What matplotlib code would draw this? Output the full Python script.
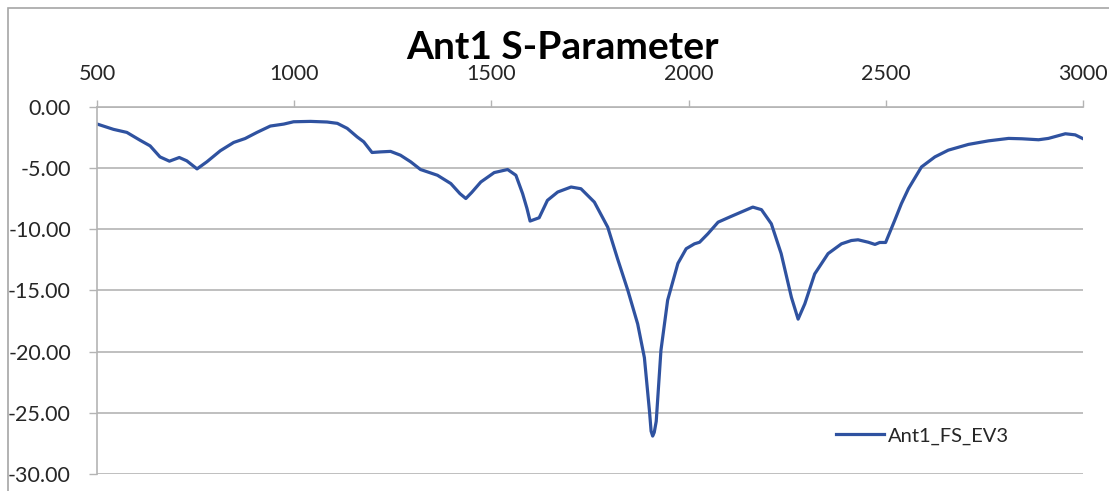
import matplotlib
matplotlib.use('Agg')
import matplotlib.pyplot as plt
from matplotlib.ticker import FuncFormatter, MultipleLocator
from matplotlib.patches import Rectangle

# S11 sweep of Ant1 (frequency in MHz, return loss in dB)
freq = [500, 541, 575, 608, 634, 659, 683, 708, 727, 753, 778, 812, 846, 875,
        905, 939, 973, 998, 1041, 1083, 1109, 1134, 1159, 1176, 1197, 1219,
        1244, 1269, 1295, 1320, 1363, 1397, 1420, 1435, 1450, 1473, 1507,
        1541, 1562, 1579, 1590, 1598, 1621, 1642, 1668, 1702, 1727, 1761,
        1795, 1820, 1846, 1871, 1888, 1901, 1905, 1909, 1913, 1918, 1930,
        1947, 1973, 1994, 2015, 2028, 2049, 2075, 2108, 2134, 2163, 2185,
        2210, 2235, 2261, 2278, 2295, 2320, 2354, 2388, 2413, 2430, 2456,
        2473, 2485, 2500, 2523, 2540, 2558, 2591, 2625, 2659, 2710, 2761,
        2812, 2846, 2888, 2913, 2956, 2981, 3000]
s11 = [-1.42, -1.85, -2.10, -2.73, -3.20, -4.10, -4.45, -4.15, -4.42, -5.08,
       -4.50, -3.60, -2.92, -2.60, -2.10, -1.58, -1.42, -1.23, -1.20, -1.25,
       -1.36, -1.77, -2.46, -2.87, -3.74, -3.69, -3.65, -3.96, -4.50, -5.13,
       -5.60, -6.28, -7.10, -7.50, -7.00, -6.15, -5.38, -5.13, -5.60, -7.10,
       -8.30, -9.34, -9.07, -7.65, -6.97, -6.56, -6.70, -7.79, -9.84, -12.43,
       -15.00, -17.75, -20.50, -24.90, -26.50, -26.90, -26.60, -25.70, -19.90,
       -15.80, -12.80, -11.60, -11.20, -11.07, -10.38, -9.43, -8.96, -8.60,
       -8.20, -8.41, -9.56, -12.00, -15.57, -17.35, -16.10, -13.66, -12.00,
       -11.20, -10.93, -10.87, -11.07, -11.25, -11.09, -11.09, -9.29, -7.92,
       -6.69, -4.92, -4.10, -3.55, -3.08, -2.79, -2.59, -2.62, -2.70, -2.59,
       -2.21, -2.30, -2.60]

series_name = 'Ant1_FS_EV3'
title = 'Ant1 S-Parameter'

plt.rcParams['font.family'] = ['Lato', 'DejaVu Sans']

W, H = 1109, 491
fig = plt.figure(figsize=(W / 100, H / 100), dpi=100)
ax = fig.add_axes([97.3 / W, 1 - 474 / H, (1082.7 - 97.3) / W, (474 - 106.7) / H])

grid_col = '#b4b4b4'
txt_col = '#262626'
line, = ax.plot(freq, s11, color='#2f52a0', lw=2.3, label=series_name)

ax.set_xlim(500, 3000)
ax.set_ylim(-30, 0)
ax.xaxis.set_major_locator(MultipleLocator(500))
ax.yaxis.set_major_locator(MultipleLocator(5))
ax.yaxis.set_major_formatter(FuncFormatter(lambda v, p: f'{v:.2f}' if abs(v) > 1e-9 else '0.00'))
ax.xaxis.tick_top()
ax.tick_params(axis='x', length=5, width=1, color=grid_col, pad=11, labelsize=15.5, labelcolor=txt_col)
ax.tick_params(axis='y', length=6, width=1, color=grid_col, pad=13, labelsize=15.5, labelcolor=txt_col)

ax.grid(axis='y', color=grid_col, lw=1.2)
ax.set_axisbelow(True)
for side in ['right', 'bottom']:
    ax.spines[side].set_visible(False)
for side in ['left', 'top']:
    ax.spines[side].set_color(grid_col)
    ax.spines[side].set_linewidth(1.2)

fig.text(563 / W, 1 - 59 / H, title, ha='center', va='baseline',
         fontsize=28, fontweight='bold', color='black')

fig.legend(handles=[line], loc='center left', bbox_to_anchor=(836 / W, 1 - 436 / H),
           frameon=False, fontsize=14.5, handlelength=2.4, handletextpad=0.2,
           borderpad=0, borderaxespad=0, labelcolor=txt_col)

# chart area border
fig.patches.append(Rectangle((8 / W, -0.1), 1.2, 1 - 8 / H + 0.1, transform=fig.transFigure,
                             fill=False, edgecolor='#a6a6a6', lw=1.2))

fig.savefig('out.png', dpi=100)
plt.close(fig)
